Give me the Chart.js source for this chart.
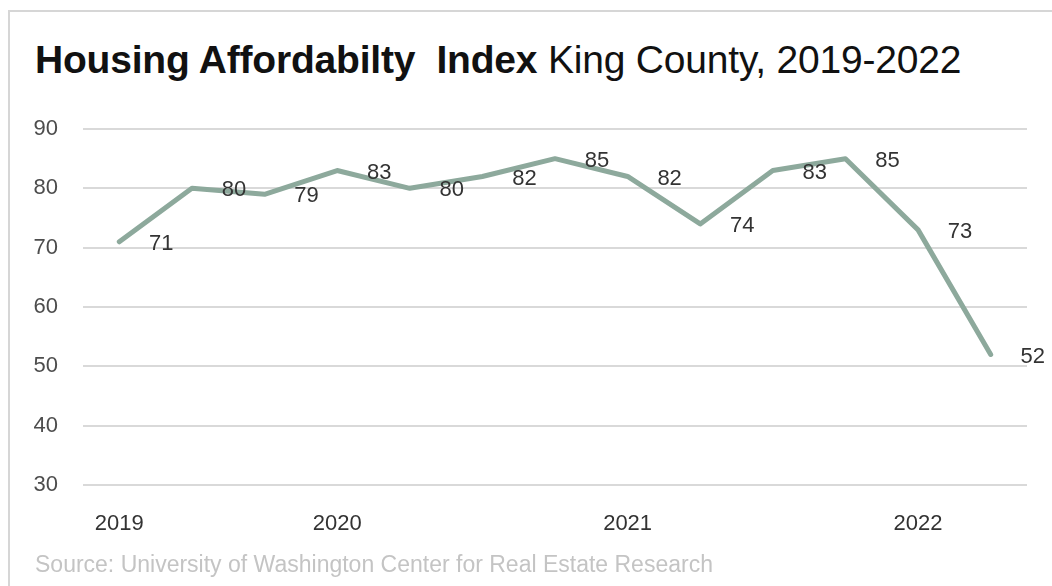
<!DOCTYPE html>
<html>
<head>
<meta charset="utf-8">
<script src="https://cdn.jsdelivr.net/npm/chart.js@4.4.1/dist/chart.umd.min.js"></script>
<style>
  html, body { margin: 0; padding: 0; background: #fff; }
  #wrap { position: relative; width: 1052px; height: 586px; overflow: hidden; font-family: "Liberation Sans", Arial, sans-serif; }
  #frame { position: absolute; left: 8px; top: 10px; width: 1100px; height: 700px; border-left: 2px solid #d6d6d6; border-top: 2px solid #d6d6d6; }
  #title { position: absolute; left: 35px; top: 38px; font-size: 39px; color: #111; white-space: nowrap; letter-spacing: -0.2px; }
  #title b { font-weight: bold; }
  #source { position: absolute; left: 35px; top: 551px; font-size: 23px; color: #c4c4c4; white-space: nowrap; }
  canvas { position: absolute; left: 0; top: 0; }
</style>
</head>
<body>
<div id="wrap">
  <div id="frame"></div>
  <div id="title"><b>Housing Affordabilty&nbsp; Index</b> King County, 2019-2022</div>
  <canvas id="chart" width="1052" height="586"></canvas>
  <div id="source">Source: University of Washington Center for Real Estate Research</div>
</div>
<script>
// quarterly index, 2019-2022
const tickLabels = ["2019", "", "", "2020", "", "", "", "2021", "", "", "", "2022", ""];
const indexValues = [71, 80, 79, 83, 80, 82, 85, 82, 74, 83, 85, 73, 52];

const yMin = 30, yMax = 90, yStep = 10;

// draws the value to the right of each point
const valueLabels = {
  id: "valueLabels",
  afterDatasetsDraw(chart) {
    const ctx = chart.ctx;
    const meta = chart.getDatasetMeta(0);
    ctx.save();
    ctx.font = '22px "Liberation Sans", Arial, sans-serif';
    ctx.fillStyle = "#333";
    ctx.textAlign = "center";
    ctx.textBaseline = "middle";
    meta.data.forEach((pt, i) => {
      ctx.fillText(String(indexValues[i]), pt.x + 42, pt.y + 2);
    });
    ctx.restore();
  }
};

new Chart(document.getElementById("chart"), {
  type: "line",
  data: {
    labels: tickLabels,
    datasets: [{
      data: indexValues,
      borderColor: "#8da99c",
      borderWidth: 5,
      borderJoinStyle: "round",
      borderCapStyle: "round",
      pointRadius: 0,
      tension: 0,
      clip: false
    }]
  },
  options: {
    responsive: false,
    animation: false,
    layout: { padding: { left: 10, top: 129, right: 25, bottom: 40 } },
    plugins: { legend: { display: false }, tooltip: { enabled: false } },
    scales: {
      x: {
        offset: true,
        grid: { display: false, drawTicks: false },
        border: { display: false },
        ticks: {
          autoSkip: false,
          maxRotation: 0,
          padding: 26,
          color: "#333",
          font: { family: '"Liberation Sans", Arial, sans-serif', size: 22 }
        },
        afterFit(s) { s.height = 586 - 485 - 40; }
      },
      y: {
        min: yMin,
        max: yMax,
        grid: { color: "#d9d9d9", lineWidth: 2, drawTicks: false },
        border: { display: false },
        ticks: {
          stepSize: yStep,
          padding: 25,
          color: "#4d4d4d",
          font: { family: '"Liberation Sans", Arial, sans-serif', size: 22 }
        },
        afterFit(s) { s.width = 83 - 10; }
      }
    }
  },
  plugins: [valueLabels]
});
</script>
</body>
</html>
